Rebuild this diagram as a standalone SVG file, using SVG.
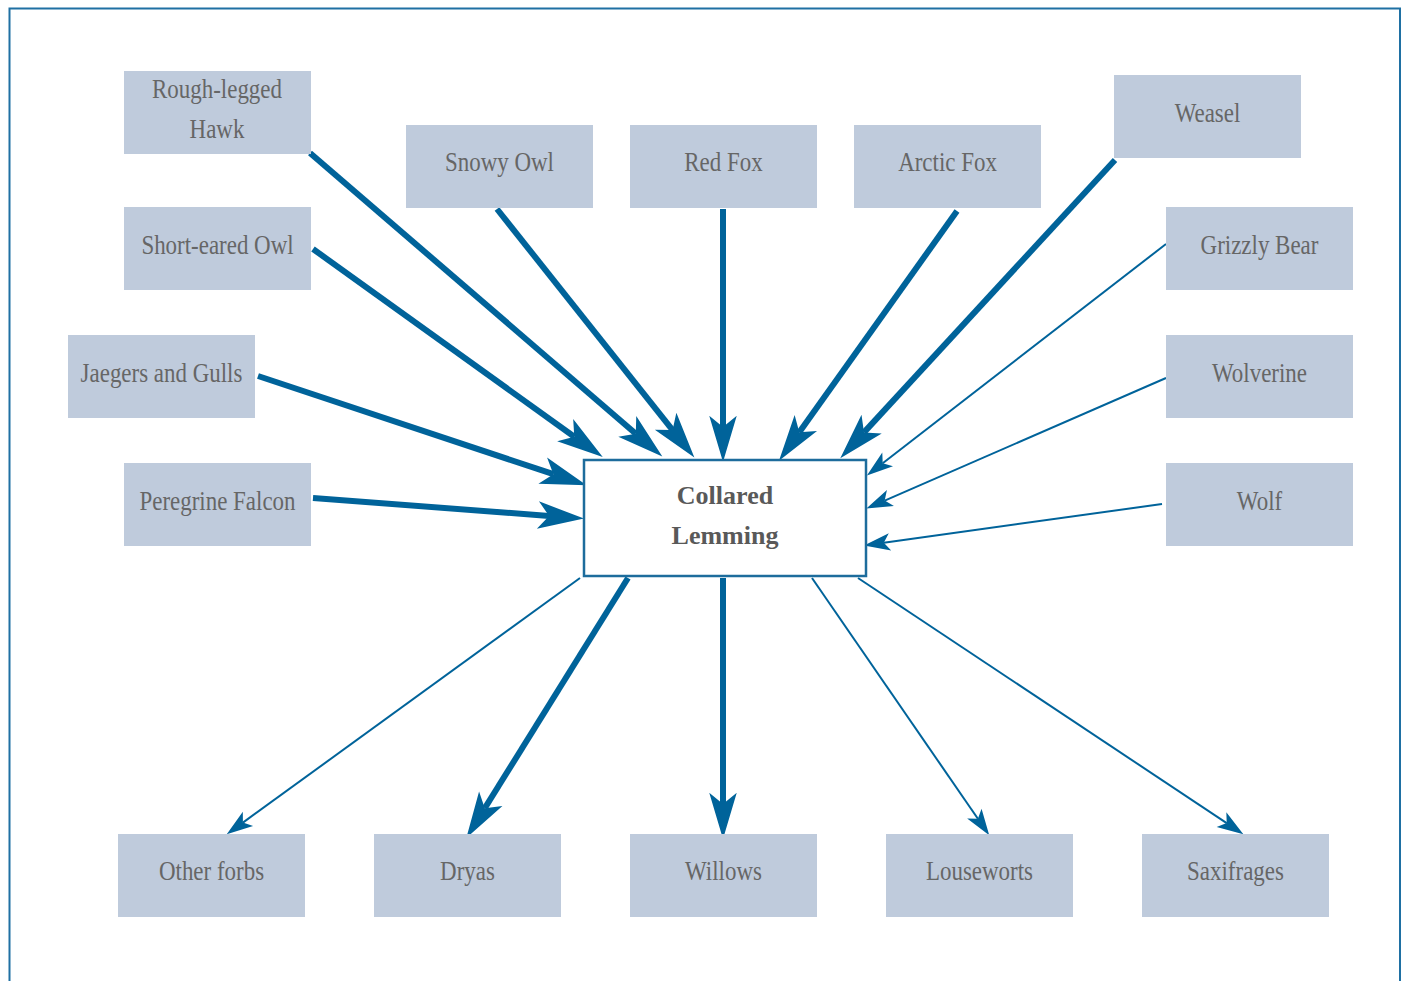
<svg xmlns="http://www.w3.org/2000/svg" width="1403" height="981" viewBox="0 0 1403 981">
<style>
.box{fill:#bfcbdc}
.lbl{font-family:"Liberation Serif",serif;font-size:27px;fill:#666;text-anchor:middle}
.ctr{font-family:"Liberation Serif",serif;font-size:26px;font-weight:bold;fill:#595959;text-anchor:middle}
.thick{stroke:#00639a;stroke-width:6;fill:none;marker-end:url(#hb)}
.thin{stroke:#00639a;stroke-width:2;fill:none;marker-end:url(#hs)}
</style>
<defs>
<marker id="hb" markerUnits="userSpaceOnUse" markerWidth="50" markerHeight="30" viewBox="-10 -12 40 24" refX="0" refY="0" orient="auto" overflow="visible">
<path d="M28,0 L-9,-11 L0,0 L-9,11 Z" fill="#00639a"/>
</marker>
<marker id="hs" markerUnits="userSpaceOnUse" markerWidth="30" markerHeight="20" viewBox="-6 -8 24 16" refX="0" refY="0" orient="auto" overflow="visible">
<path d="M16,0 L-5,-7 L0,0 L-5,7 Z" fill="#00639a"/>
</marker>
</defs>
<rect width="1403" height="981" fill="#fff"/>
<path d="M9.5,990 V8.5 H1400 V990" fill="none" stroke="#1f70a3" stroke-width="2"/>
<g id="connectors">
<line class="thick" x1="310" y1="153" x2="635.8" y2="433.7"/>
<line class="thick" x1="497" y1="209" x2="672.6" y2="430.1"/>
<line class="thick" x1="723" y1="209" x2="723" y2="427"/>
<line class="thick" x1="957" y1="211" x2="799.3" y2="432.2"/>
<line class="thick" x1="1115" y1="160" x2="864" y2="432.4"/>
<line class="thick" x1="313" y1="249" x2="574.3" y2="436.7"/>
<line class="thick" x1="258" y1="376" x2="553.4" y2="474.2"/>
<line class="thick" x1="313" y1="498" x2="549.1" y2="515.9"/>
<line class="thin" x1="1166" y1="244" x2="882.7" y2="463.2"/>
<line class="thin" x1="1166" y1="378" x2="884.7" y2="500.6"/>
<line class="thin" x1="1162" y1="504" x2="883.8" y2="542.8"/>
<line class="thin" x1="580" y1="578" x2="242.9" y2="822.6"/>
<line class="thick" x1="628" y1="578" x2="484.8" y2="808.2"/>
<line class="thick" x1="723" y1="578" x2="723" y2="804"/>
<line class="thin" x1="812" y1="578" x2="977.9" y2="818.8"/>
<line class="thin" x1="858" y1="578" x2="1226.7" y2="823.1"/>
</g>
<g id="lemming">
<rect x="584" y="460" width="282" height="116" fill="#fff" stroke="#1d6c9c" stroke-width="2.5"/>
<text class="ctr" x="725" y="504">Collared</text>
<text class="ctr" x="725" y="544">Lemming</text>
</g>
<g id="rough-legged-hawk"><rect class="box" x="124" y="71" width="187" height="83"/><text class="lbl" transform="translate(217,98) scale(0.85,1)">Rough-legged</text><text class="lbl" transform="translate(217,138) scale(0.85,1)">Hawk</text></g>
<g id="snowy-owl"><rect class="box" x="406" y="125" width="187" height="83"/><text class="lbl" transform="translate(499.5,171) scale(0.85,1)">Snowy Owl</text></g>
<g id="red-fox"><rect class="box" x="630" y="125" width="187" height="83"/><text class="lbl" transform="translate(723.5,171) scale(0.85,1)">Red Fox</text></g>
<g id="arctic-fox"><rect class="box" x="854" y="125" width="187" height="83"/><text class="lbl" transform="translate(947.5,171) scale(0.85,1)">Arctic Fox</text></g>
<g id="weasel"><rect class="box" x="1114" y="75" width="187" height="83"/><text class="lbl" transform="translate(1207.5,122) scale(0.85,1)">Weasel</text></g>
<g id="short-eared-owl"><rect class="box" x="124" y="207" width="187" height="83"/><text class="lbl" transform="translate(217.5,254) scale(0.85,1)">Short-eared Owl</text></g>
<g id="grizzly-bear"><rect class="box" x="1166" y="207" width="187" height="83"/><text class="lbl" transform="translate(1259.5,254) scale(0.85,1)">Grizzly Bear</text></g>
<g id="jaegers-and-gulls"><rect class="box" x="68" y="335" width="187" height="83"/><text class="lbl" transform="translate(161.5,382) scale(0.85,1)">Jaegers and Gulls</text></g>
<g id="wolverine"><rect class="box" x="1166" y="335" width="187" height="83"/><text class="lbl" transform="translate(1259.5,382) scale(0.85,1)">Wolverine</text></g>
<g id="peregrine-falcon"><rect class="box" x="124" y="463" width="187" height="83"/><text class="lbl" transform="translate(217.5,510) scale(0.85,1)">Peregrine Falcon</text></g>
<g id="wolf"><rect class="box" x="1166" y="463" width="187" height="83"/><text class="lbl" transform="translate(1259.5,510) scale(0.85,1)">Wolf</text></g>
<g id="other-forbs"><rect class="box" x="118" y="834" width="187" height="83"/><text class="lbl" transform="translate(211.5,880) scale(0.85,1)">Other forbs</text></g>
<g id="dryas"><rect class="box" x="374" y="834" width="187" height="83"/><text class="lbl" transform="translate(467.5,880) scale(0.85,1)">Dryas</text></g>
<g id="willows"><rect class="box" x="630" y="834" width="187" height="83"/><text class="lbl" transform="translate(723.5,880) scale(0.85,1)">Willows</text></g>
<g id="louseworts"><rect class="box" x="886" y="834" width="187" height="83"/><text class="lbl" transform="translate(979.5,880) scale(0.85,1)">Louseworts</text></g>
<g id="saxifrages"><rect class="box" x="1142" y="834" width="187" height="83"/><text class="lbl" transform="translate(1235.5,880) scale(0.85,1)">Saxifrages</text></g>
</svg>
